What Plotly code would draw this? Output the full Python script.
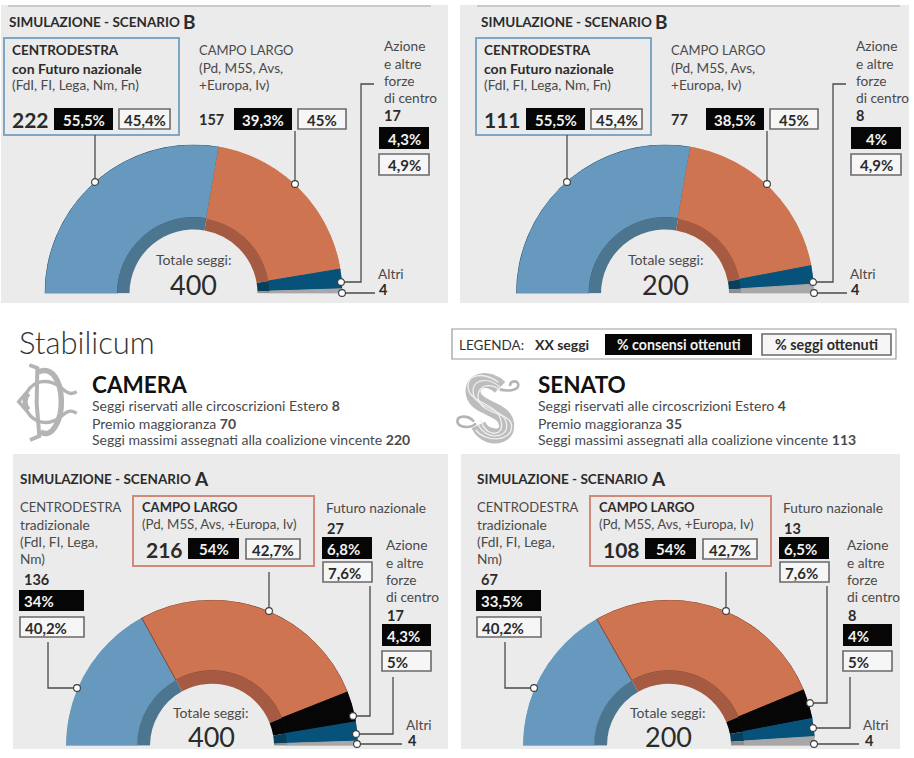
import plotly.graph_objects as go

W, H = 914, 758

# ---- data ----
parties_a = ["Centrodestra tradizionale", "Campo largo", "Futuro nazionale", "Azione e altre", "Altri"]
parties_b = ["Centrodestra con Futuro nazionale", "Campo largo", "Azione e altre", "Altri"]

seats_cam_b = [222, 157, 17, 4]
cons_cam_b = ["55,5%", "39,3%", "4,3%"]
perc_cam_b = ["45,4%", "45%", "4,9%"]

seats_sen_b = [111, 77, 8, 4]
cons_sen_b = ["55,5%", "38,5%", "4%"]
perc_sen_b = ["45,4%", "45%", "4,9%"]

seats_cam_a = [136, 216, 27, 17, 4]
cons_cam_a = ["34%", "54%", "6,8%", "4,3%"]
perc_cam_a = ["40,2%", "42,7%", "7,6%", "5%"]

seats_sen_a = [67, 108, 13, 8, 4]
cons_sen_a = ["33,5%", "54%", "6,5%", "4%"]
perc_sen_a = ["40,2%", "42,7%", "7,6%", "5%"]

# ---- styles ----
BLUE, ORANGE, TEAL, GREY, BLACK = "#6699bd", "#cf7450", "#07527a", "#a8a8a8", "#060606"
IN_BLUE, IN_ORANGE, IN_TEAL, IN_GREY = "#4c7690", "#a65a41", "#083f5c", "#8d8d8d"
PANEL = "#ebebeb"
INK = "#2b2b2b"
SOFT = "#4a4a4a"
FONT = "Lato"

fill_b = [BLUE, ORANGE, TEAL, GREY]
ring_b = [IN_BLUE, IN_ORANGE, IN_TEAL, IN_GREY]
fill_a = [BLUE, ORANGE, BLACK, TEAL, GREY]
ring_a = [IN_BLUE, IN_ORANGE, BLACK, IN_TEAL, IN_GREY]
edge_b = ["#2f5b7c", "#cf7450", "#07527a", "#a8a8a8"]
edge_a = ["#6699bd", "#7e4632", "#060606", "#07527a", "#a8a8a8"]


def X(p):
    return p / W


def Y(p):
    return 1 - p / H


shapes, annots, traces = [], [], []
polar_layouts = {}


def rect(x0, y0, x1, y1, fill="rgba(0,0,0,0)", line=None, lw=0, layer="above"):
    shapes.append(dict(type="rect", xref="paper", yref="paper", x0=X(x0), x1=X(x1), y0=Y(y0), y1=Y(y1),
                       fillcolor=fill, line=dict(color=line or "rgba(0,0,0,0)", width=lw), layer=layer))


def text(x, y, s, size=14, color=SOFT, anchor="left", family=FONT):
    annots.append(dict(xref="paper", yref="paper", x=X(x - 1 if anchor == "left" else x), y=Y(y), text=s,
                       showarrow=False, xanchor=anchor, yanchor="middle", align=anchor, borderpad=0,
                       font=dict(family=family, size=size, color=color)))


def path(points):
    return "M " + " L ".join(f"{X(a):.5f},{Y(b):.5f}" for a, b in points)


def leader(points):
    shapes.append(dict(type="path", xref="paper", yref="paper", path=path(points),
                       line=dict(color="#4a4a4a", width=1.3), fillcolor="rgba(0,0,0,0)"))


def dot(x, y, r=3.4):
    shapes.append(dict(type="circle", xref="paper", yref="paper", x0=X(x - r), x1=X(x + r), y0=Y(y + r), y1=Y(y - r),
                       fillcolor="white", line=dict(color="#3a3a3a", width=1.1)))


def black(x0, y0, x1, y1, s, size=15):
    rect(x0, y0, x1, y1, fill=BLACK)
    text((x0 + x1) / 2, (y0 + y1) / 2 + 0.5, f"<b>{s}</b>", size=size, color="#f2f2f2", anchor="center")


def black_left(x0, y0, x1, y1, s, size=15):
    rect(x0, y0, x1, y1, fill=BLACK)
    text(x0 + 5, (y0 + y1) / 2 + 0.5, f"<b>{s}</b>", size=size, color="#f2f2f2")


def white(x0, y0, x1, y1, s, size=15, left=False):
    rect(x0, y0, x1, y1, fill="#f6f6f6", line="#6a6a6a", lw=1.6)
    if left:
        text(x0 + 5, (y0 + y1) / 2 + 0.5, f"<b>{s}</b>", size=size, color=INK)
    else:
        text((x0 + x1) / 2, (y0 + y1) / 2 + 0.5, f"<b>{s}</b>", size=size, color=INK, anchor="center")


def gauge(idx, seats, fill, ring, edge, cx, base, R, r_in, r_ring):
    total = sum(seats)
    widths = [s / total * 180 for s in seats]
    mids, acc = [], 0
    for w in widths:
        mids.append(acc + w / 2)
        acc += w
    sub = f"polar{idx}" if idx > 1 else "polar"
    traces.append(go.Barpolar(theta=mids, width=widths, r=[1 - r_ring / R] * len(seats), base=[r_ring / R] * len(seats),
                              marker=dict(color=fill, line=dict(color=edge, width=1)), subplot=sub, showlegend=False))
    traces.append(go.Barpolar(theta=mids, width=widths, r=[(r_ring - r_in) / R] * len(seats),
                              base=[r_in / R] * len(seats),
                              marker=dict(color=ring, line=dict(width=0)), subplot=sub, showlegend=False))
    polar_layouts[sub] = dict(
        domain=dict(x=[X(cx - R), X(cx + R)], y=[Y(base), Y(base - R)]),
        sector=[0, 180], bgcolor="rgba(0,0,0,0)",
        radialaxis=dict(range=[0, 1], visible=False),
        angularaxis=dict(visible=False, rotation=180, direction="clockwise", thetaunit="degrees"),
        bargap=0,
    )
    return total


def title(x, y, letter):
    text(x, y, "<b>SIMULAZIONE - SCENARIO</b>", size=13.5, color=INK)
    text(x + 174, y - 1, f"<b>{letter}</b>", size=19, color=INK)


def scenario_b(idx, dx, seats, cons, perc):
    rect(4 + dx, 38, 179 + dx, 135, line="#7fa7c3", lw=2)
    title(9 + dx, 22, "B")
    text(12 + dx, 50, "<b>CENTRODESTRA</b>", 13.5, INK)
    text(12 + dx, 68, "<b>con Futuro nazionale</b>", 14, INK)
    text(12 + dx, 85, "(FdI, FI, Lega, Nm, Fn)", 13.6)
    text(12 + dx, 119, f"<b>{seats[0]}</b>", 21, INK)
    black(54 + dx, 108, 113 + dx, 130, cons[0])
    white(119 + dx, 109, 170 + dx, 129, perc[0])
    text(199 + dx, 50, "CAMPO LARGO", 13)
    text(199 + dx, 68, "(Pd, M5S, Avs,", 13.6)
    text(199 + dx, 85, "+Europa, Iv)", 13.6)
    text(199 + dx, 119, f"<b>{seats[1]}</b>", 14.5, INK)
    black(234 + dx, 108, 292 + dx, 130, cons[1])
    white(298 + dx, 109, 346 + dx, 129, perc[1])
    for y, s in zip([45, 63, 80, 98], ["Azione", "e altre", "forze", "di centro"]):
        text(384 + dx, y, s, 13.7)
    text(384 + dx, 116, f"<b>{seats[2]}</b>", 14.5, INK)
    black(379 + dx, 127, 429 + dx, 149, cons[2])
    white(379 + dx, 154, 429 + dx, 175, perc[2])
    text(378 + dx, 273, "Altri", 13.7)
    text(379 + dx, 290, f"<b>{seats[3]}</b>", 14.5, INK)
    total = gauge(idx, seats, fill_b, ring_b, edge_b, 193.5 + dx * 0.999, 293.5, 149, 64, 76)
    text(193 + dx, 260, "Totale seggi:", 14, anchor="center")
    text(193 + dx, 285, str(total), 27, INK, anchor="center")
    leader([(95 + dx, 135), (95 + dx, 182)])
    dot(95 + dx, 182)
    leader([(295 + dx, 131), (295 + dx, 184)])
    dot(295 + dx, 184)
    leader([(374 + dx, 84), (361 + dx, 84), (361 + dx, 282), (341 + dx, 282)])
    dot(341 + dx, 282)
    leader([(342 + dx, 293), (375 + dx, 293)])
    dot(342 + dx, 293)


def scenario_a(idx, dx, seats, cons, perc, az_dx, fn_dot, az_dot):
    title(20 + dx, 479, "A")
    sizes = [13, 13.7, 13.7, 13.7]
    for y, s, fs in zip([507, 524, 541, 558], ["CENTRODESTRA", "tradizionale", "(FdI, FI, Lega,", "Nm)"], sizes):
        text(20 + dx, y, s, fs)
    text(24 + dx, 579, f"<b>{seats[0]}</b>", 14.5, INK)
    black_left(19 + dx, 590, 84 + dx, 611, cons[0])
    white(20 + dx, 617, 84 + dx, 637, perc[0], left=True)
    rect(133 + dx, 496, 314 + dx, 566, line="#d08b78", lw=2)
    text(142 + dx, 507, "<b>CAMPO LARGO</b>", 13, INK)
    text(142 + dx, 524, "(Pd, M5S, Avs, +Europa, Iv)", 13.3)
    text(146 + dx, 549, f"<b>{seats[1]}</b>", 21, INK)
    black(188 + dx, 538, 239 + dx, 559, cons[1])
    white(246 + dx, 539, 300 + dx, 559, perc[1])
    text(326 + dx, 507, "Futuro nazionale", 13.7)
    text(327 + dx, 528, f"<b>{seats[2]}</b>", 14.5, INK)
    black_left(322 + dx, 537, 372 + dx, 559, cons[2])
    white(323 + dx, 562, 372 + dx, 582, perc[2], left=True)
    for y, s in zip([544, 562, 579, 596], ["Azione", "e altre", "forze", "di centro"]):
        text(386 + dx + az_dx, y, s, 13.7)
    text(387 + dx + az_dx, 615, f"<b>{seats[3]}</b>", 14.5, INK)
    black_left(382 + dx + az_dx, 624, 431 + dx + az_dx, 646, cons[3])
    white(382 + dx + az_dx, 651, 431 + dx + az_dx, 671, perc[3], left=True)
    text(406 + dx, 724, "Altri", 13.7)
    text(408 + dx, 740, f"<b>{seats[4]}</b>", 14.5, INK)
    total = gauge(idx, seats, fill_a, ring_a, edge_a, 212 + dx, 745.7, 146, 62, 75)
    text(210 + dx, 712, "Totale seggi:", 14, anchor="center")
    text(211 + dx, 736, str(total), 27, INK, anchor="center")
    leader([(48 + dx, 642), (48 + dx, 688), (77 + dx, 688)])
    dot(77 + dx, 688)
    leader([(269 + dx, 572), (269 + dx, 611)])
    dot(269 + dx, 611)
    leader([(370 + dx, 586), (370 + dx, fn_dot), (353 + dx, fn_dot)])
    dot(353 + dx, fn_dot)
    leader([(393 + dx, 677), (393 + dx, az_dot), (356 + dx, az_dot)])
    dot(356 + dx, az_dot)
    leader([(402 + dx, 744), (357 + dx, 744)])
    dot(357 + dx, 744)


def emblem_path(d):
    out = []
    for cmd, pts in d:
        out.append(cmd + " " + " ".join(f"{X(a):.5f},{Y(b):.5f}" for a, b in pts))
    return " ".join(out)


def stroke(d, width, color="#b4b4b4"):
    shapes.append(dict(type="path", xref="paper", yref="paper", path=emblem_path(d),
                       line=dict(color=color, width=width), fillcolor="rgba(0,0,0,0)"))


def header(x, heading, estero, premio, massimi):
    text(x, 384, f"<b>{heading}</b>", 22.5, "#111111")
    text(x, 405, f"Seggi riservati alle circoscrizioni Estero <b>{estero}</b>", 14)
    text(x, 423, f"Premio maggioranza <b>{premio}</b>", 14)
    text(x, 439, f"Seggi massimi assegnati alla coalizione vincente <b>{massimi}</b>", 14)


# ---- panels ----
rect(1, 5, 448, 303, fill=PANEL, layer="below")
rect(460, 5, 909, 303, fill=PANEL, layer="below")
rect(13, 454, 448, 749, fill=PANEL, layer="below")
rect(461, 454, 900, 749, fill=PANEL, layer="below")
for a, b in [(8, 431), (477, 900)]:
    leader([(a, 6), (b, 6)])
    shapes[-1]["line"] = dict(color="#a8a8a8", width=1.2)

scenario_b(1, 0, seats_cam_b, cons_cam_b, perc_cam_b)
scenario_b(2, 472, seats_sen_b, cons_sen_b, perc_sen_b)
scenario_a(3, 0, seats_cam_a, cons_cam_a, perc_cam_a, 0, 716, 734)
scenario_a(4, 457, seats_sen_a, cons_sen_a, perc_sen_a, 4, 703, 728)

# ---- middle band ----
text(19, 342, "Stabilicum", 31, "#333333", family="Lato Light, Lato")
header(92, "CAMERA", 8, 70, 220)
header(538, "SENATO", 4, 35, 113)

rect(452, 329, 896, 359, line="#9a9a9a", lw=1.2)
text(459, 345, "LEGENDA:", 13.5, "#333333")
text(535, 345, "<b>XX seggi</b>", 14, INK)
black(605, 334, 752, 355, "% consensi ottenuti", 14.2)
white(762, 334, 891, 355, "% seggi ottenuti", 14.4)


# ---- monograms ----
def z(a, b, ox, oy):
    return (ox + a / 3, oy + b / 3)


cam = lambda a, b: z(a, b, 10, 360)
# D: stem with serifs, then the bowl
stroke([("M", [cam(58, 15)]), ("L", [cam(82, 24)]), ("L", [cam(80, 130)]), ("L", [cam(88, 228)]), ("L", [cam(60, 240)])], 4)
stroke([("M", [cam(85, 36)]), ("C", [cam(125, 18), cam(152, 60), cam(154, 120)]),
        ("C", [cam(156, 180), cam(125, 240), cam(92, 215)])], 5.5)
# C: terminals at the right, pointed belly at the left
stroke([("M", [cam(200, 95)]), ("C", [cam(180, 108), cam(168, 95), cam(150, 80)]),
        ("C", [cam(115, 55), cam(72, 60), cam(52, 95)]), ("L", [cam(26, 125)]), ("L", [cam(52, 155)]),
        ("C", [cam(72, 190), cam(115, 198), cam(150, 172)]), ("C", [cam(168, 158), cam(180, 145), cam(200, 160)])], 3.4)
stroke([("M", [cam(55, 100)]), ("C", [cam(42, 115), cam(42, 135), cam(55, 150)])], 5)

sen = lambda a, b: z(a, b, 450, 370)
s_curve = [("M", [sen(150, 52)]),
           ("C", [sen(118, 20), sen(62, 25), sen(70, 72)]),
           ("C", [sen(80, 120), sen(172, 112), sen(170, 170)]),
           ("C", [sen(168, 208), sen(105, 208), sen(85, 165)])]
stroke(s_curve, 15, "#bdbdbd")
for off in [-15, 0, 15]:
    stroke([("M", [sen(150 + off * 0.3, 52 + off)]),
            ("C", [sen(118 + off, 20 + off), sen(62 + off, 25 + off), sen(70 + off, 72 + off)]),
            ("C", [sen(80 + off, 120 + off), sen(172 + off, 112 + off), sen(170 + off, 170)]),
            ("C", [sen(168 + off, 208 + off * 0.6), sen(105, 208 + off * 0.6), sen(85 - off * 0.5, 165 + off)])],
           1.3, "#efefef")
stroke([("M", [sen(150, 58)]), ("C", [sen(170, 65), sen(205, 62), sen(205, 45)]),
        ("C", [sen(205, 30), sen(180, 30), sen(180, 48)])], 2.6)
stroke([("M", [sen(78, 160)]), ("C", [sen(60, 178), sen(25, 172), sen(22, 155)]),
        ("C", [sen(22, 135), sen(55, 135), sen(72, 155)])], 2.6)

fig = go.Figure(data=traces)
fig.update_layout(width=W, height=H, margin=dict(l=0, r=0, t=0, b=0), paper_bgcolor="white",
                  plot_bgcolor="white", showlegend=False, shapes=shapes, annotations=annots,
                  font=dict(family=FONT), **polar_layouts)
fig.write_html("out.html", config={"displayModeBar": False},
               post_script="document.body.style.margin='0';")
